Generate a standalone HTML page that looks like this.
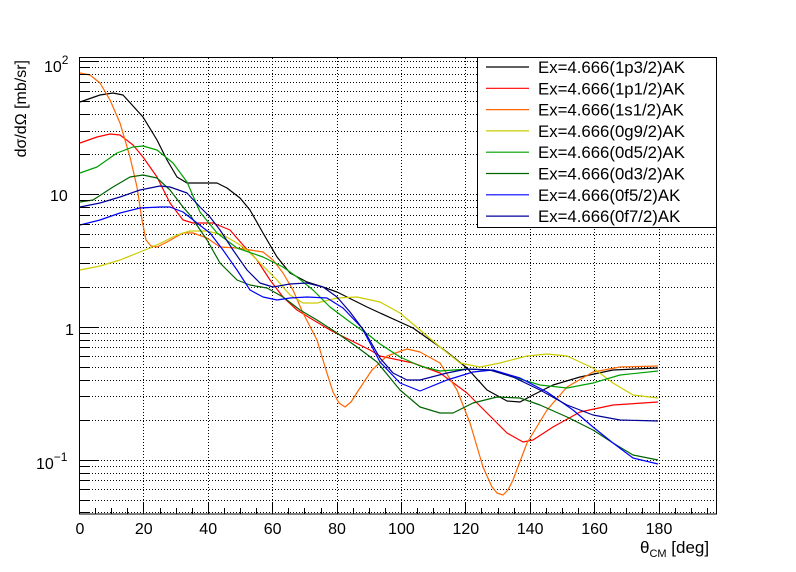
<!DOCTYPE html>
<html><head><meta charset="utf-8"><style>
body{margin:0;background:#fff;}
svg{display:block;font-family:"Liberation Sans",sans-serif;}
</style></head><body>
<svg width="796" height="572" viewBox="0 0 796 572" xmlns="http://www.w3.org/2000/svg">
<rect width="796" height="572" fill="#fff"/>
<path stroke="#000" stroke-width="1" stroke-dasharray="1,2" fill="none" d="M143.5,58V514M208.5,58V514M272.5,58V514M337.5,58V514M401.5,58V514M465.5,58V514M530.5,58V514M594.5,58V514M659.5,58V514
M80,61.5H716M80,67.5H716M80,74.5H716M80,82.5H716M80,91.5H716M80,101.5H716M80,114.5H716M80,131.5H716M80,154.5H716M80,194.5H716M80,200.5H716M80,207.5H716M80,215.5H716M80,224.5H716M80,234.5H716M80,247.5H716M80,263.5H716M80,287.5H716M80,327.5H716M80,333.5H716M80,340.5H716M80,347.5H716M80,356.5H716M80,367.5H716M80,380.5H716M80,396.5H716M80,420.5H716M80,460.5H716M80,466.5H716M80,473.5H716M80,480.5H716M80,489.5H716M80,500.5H716M80,512.5H716"/>
<g fill="none" stroke-width="1.2" stroke-linejoin="round">
<polyline stroke="#000" points="80,102 100,95 113,93 123,95 143,117 157,140 167,160 177,177 187,183 207,183 217,183 227,188 240,198 250,210 263,233 277,257 290,273 307,282 323,287 337,292 367,307 380,313 413,328 447,352 467,368 487,390 507,401 520,402 533,395 553,385 580,377 613,370 658,368"/>
<polyline stroke="#f00" points="80,143 97,137 110,134 120,135 133,145 143,157 157,177 170,203 183,220 193,223 213,223 230,230 243,245 257,260 270,280 283,297 297,310 310,318 330,330 350,340 370,350 380,356 413,363 440,373 467,393 487,413 507,433 523,442 533,440 553,427 580,412 613,405 658,402"/>
<polyline stroke="#ff6600" points="80,73 90,75 100,83 110,100 120,123 130,157 137,187 142,220 146,240 151,246 157,247 167,242 183,233 193,233 207,238 220,247 237,248 250,250 263,252 273,260 283,273 293,290 303,313 317,340 326,370 333,392 339,403 345,407 351,402 360,388 372,370 387,356 407,349 420,352 440,363 457,390 470,423 483,467 492,487 497,493 503,495 508,490 513,480 527,443 547,410 567,387 593,372 620,367 658,366"/>
<polyline stroke="#cccc00" points="80,270 100,266 120,260 140,252 150,248 163,242 177,235 190,231 207,231 223,235 237,243 247,250 257,260 267,270 277,280 290,295 303,303 317,303 337,298 357,297 380,302 400,313 420,330 440,347 460,363 480,367 500,363 527,356 547,354 567,356 593,368 613,383 633,395 658,398"/>
<polyline stroke="#00a000" points="80,173 97,167 117,153 133,147 143,146 157,150 173,163 187,182 200,212 217,233 237,248 263,257 283,267 297,277 313,290 330,307 350,322 370,336 380,344 400,357 420,366 440,371 467,369 490,370 513,377 540,385 567,388 593,383 620,375 658,371"/>
<polyline stroke="#006400" points="80,202 93,200 113,187 130,177 143,175 157,178 170,190 183,207 190,215 207,240 220,263 237,280 250,285 267,288 283,297 300,310 317,320 337,333 357,347 377,362 400,390 420,407 440,413 453,413 473,403 497,397 520,398 540,405 567,417 593,430 613,443 633,455 658,460"/>
<polyline stroke="#0000ff" points="80,225 100,220 120,213 140,208 160,207 170,207 183,212 197,223 210,233 223,250 237,270 250,290 263,297 277,300 290,298 307,297 327,298 343,308 362,328 380,362 400,383 420,391 447,380 473,372 493,370 520,378 547,392 573,410 593,427 613,443 633,458 658,464"/>
<polyline stroke="#000099" points="80,207 100,203 120,197 140,190 160,186 170,187 187,193 200,207 210,217 220,230 233,250 247,270 260,283 273,287 290,284 307,283 323,287 337,297 350,312 365,332 380,358 393,373 407,380 420,380 447,373 467,369 490,370 513,377 540,390 567,405 593,415 620,420 658,421"/>
</g>
<path stroke="#000" stroke-width="1" fill="none" d="M143.5,514V502M208.5,514V502M272.5,514V502M337.5,514V502M401.5,514V502M465.5,514V502M530.5,514V502M594.5,514V502M659.5,514V502
M95.5,514V508M111.5,514V508M127.5,514V508M160.5,514V508M176.5,514V508M192.5,514V508M224.5,514V508M240.5,514V508M256.5,514V508M288.5,514V508M304.5,514V508M321.5,514V508M353.5,514V508M369.5,514V508M385.5,514V508M417.5,514V508M433.5,514V508M449.5,514V508M481.5,514V508M498.5,514V508M514.5,514V508M546.5,514V508M562.5,514V508M578.5,514V508M610.5,514V508M626.5,514V508M642.5,514V508M675.5,514V508M691.5,514V508M707.5,514V508
M80,61.5H99M80,194.5H99M80,327.5H99M80,460.5H99
M80,67.5H90M80,74.5H90M80,82.5H90M80,91.5H90M80,101.5H90M80,114.5H90M80,131.5H90M80,154.5H90M80,200.5H90M80,207.5H90M80,215.5H90M80,224.5H90M80,234.5H90M80,247.5H90M80,263.5H90M80,287.5H90M80,333.5H90M80,340.5H90M80,347.5H90M80,356.5H90M80,367.5H90M80,380.5H90M80,396.5H90M80,420.5H90M80,466.5H90M80,473.5H90M80,480.5H90M80,489.5H90M80,500.5H90M80,512.5H90"/>
<rect x="79.5" y="57.5" width="637" height="456.5" fill="none" stroke="#000" stroke-width="1"/>
<g font-size="16" fill="#000">
<text x="80" y="534" text-anchor="middle">0</text>
<text x="143.8" y="534" text-anchor="middle">20</text>
<text x="208.2" y="534" text-anchor="middle">40</text>
<text x="272.6" y="534" text-anchor="middle">60</text>
<text x="337" y="534" text-anchor="middle">80</text>
<text x="401.4" y="534" text-anchor="middle">100</text>
<text x="465.8" y="534" text-anchor="middle">120</text>
<text x="530.2" y="534" text-anchor="middle">140</text>
<text x="594.6" y="534" text-anchor="middle">160</text>
<text x="659" y="534" text-anchor="middle">180</text>
<text x="44" y="72">10<tspan font-size="12" dy="-8">2</tspan></text>
<text x="50" y="201">10</text>
<text x="65" y="335">1</text>
<text x="36" y="469">10<tspan font-size="12" dy="-8">−1</tspan></text>
<text x="640" y="553" font-size="17">θ<tspan font-size="11" dy="4">CM</tspan><tspan dy="-4"> [deg]</tspan></text>
<text transform="translate(26,60) rotate(-90)" text-anchor="end">dσ/dΩ [mb/sr]</text>
</g>
<rect x="477.5" y="57.5" width="239" height="170" fill="#fff" stroke="#000"/>
<g stroke-width="1.2">
<line x1="486" x2="529" y1="67" y2="67" stroke="#000"/>
<line x1="486" x2="529" y1="88.3" y2="88.3" stroke="#f00"/>
<line x1="486" x2="529" y1="109.6" y2="109.6" stroke="#ff6600"/>
<line x1="486" x2="529" y1="130.9" y2="130.9" stroke="#cccc00"/>
<line x1="486" x2="529" y1="152.2" y2="152.2" stroke="#00a000"/>
<line x1="486" x2="529" y1="173.5" y2="173.5" stroke="#006400"/>
<line x1="486" x2="529" y1="194.8" y2="194.8" stroke="#0000ff"/>
<line x1="486" x2="529" y1="216.1" y2="216.1" stroke="#000099"/>
</g>
<g font-size="16.8" fill="#000">
<text x="538" y="73">Ex=4.666(1p3/2)AK</text>
<text x="538" y="94.3">Ex=4.666(1p1/2)AK</text>
<text x="538" y="115.6">Ex=4.666(1s1/2)AK</text>
<text x="538" y="136.9">Ex=4.666(0g9/2)AK</text>
<text x="538" y="158.2">Ex=4.666(0d5/2)AK</text>
<text x="538" y="179.5">Ex=4.666(0d3/2)AK</text>
<text x="538" y="200.8">Ex=4.666(0f5/2)AK</text>
<text x="538" y="222.1">Ex=4.666(0f7/2)AK</text>
</g>
</svg>
</body></html>
